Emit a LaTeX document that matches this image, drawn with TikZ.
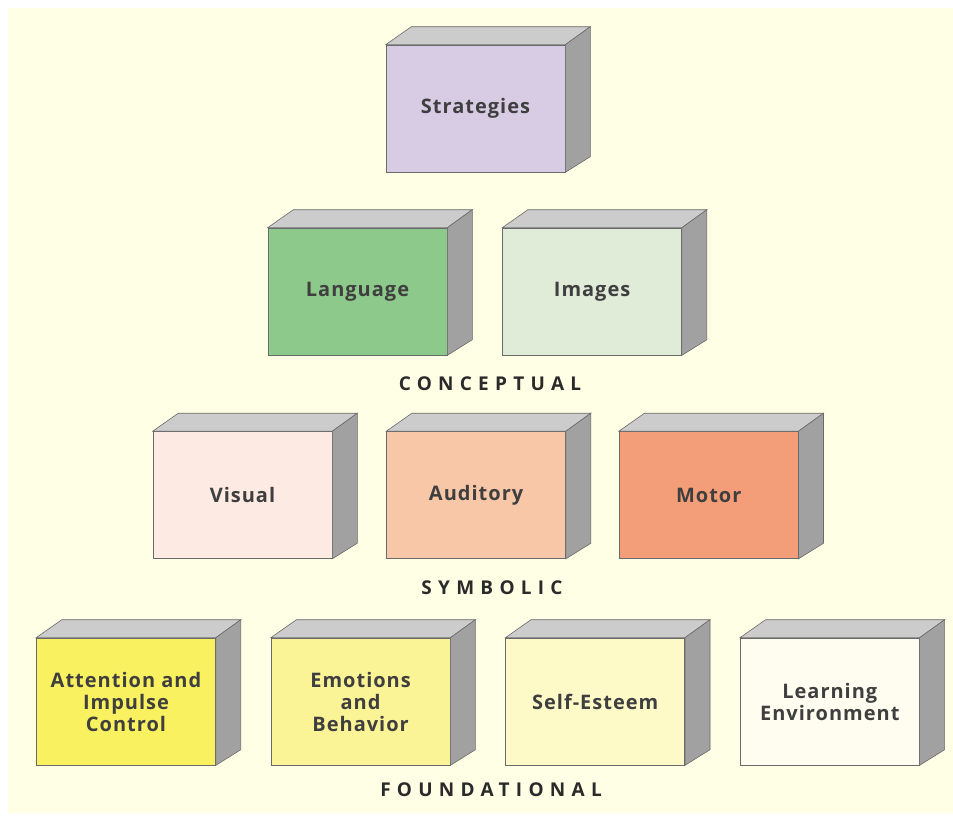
\documentclass[tikz,border=0pt]{standalone}
\usepackage{fontspec}
\setmainfont{Open Sans}
\usepackage{tikz}
\usetikzlibrary{positioning}
\definecolor{ink}     {HTML}{2A2A2A}
\definecolor{paper}   {HTML}{FFFFE6}
\definecolor{lilac}   {HTML}{D8CCE4}
\definecolor{leaf}    {HTML}{8DC98A}
\definecolor{sage}    {HTML}{E0EBD8}
\definecolor{blush}   {HTML}{FDEBE3}
\definecolor{peach}   {HTML}{F8C7A8}
\definecolor{salmon}  {HTML}{F39E78}
\definecolor{lemon}   {HTML}{FAF160}
\definecolor{butter}  {HTML}{FBF497}
\definecolor{cream}   {HTML}{FDFAC8}
\definecolor{ivory}   {HTML}{FEFDF0}
\tikzset{
  % --- blocks
  box/.style   = {draw=ink!70, line width=0.6pt, inner sep=0pt, align=center,
                  minimum width=179pt, minimum height=127pt, text=ink!90,
                  font=\fontsize{20}{22}\selectfont\bfseries\addfontfeatures{LetterSpace=5}},
  topface/.style  = {fill=black!20, draw=ink!70, line width=0.6pt},
  sideface/.style = {fill=black!37, draw=ink!70, line width=0.6pt},
  tier/.style  = {text=ink, font=\fontsize{19}{22}\selectfont\bfseries\addfontfeatures{LetterSpace=33}},
}
\begin{document}
\begin{tikzpicture}[x=1pt,y=-1pt]
  \useasboundingbox (0,0) rectangle (953,817);
  \fill[white] (0,0) rectangle (953,817);
  \fill[paper] (8,8) rectangle (953,813);

  % top
  \node[box, fill=lilac] (str) at (475.5,108.5) {Strategies};
  % conceptual
  \node[box, fill=leaf] (lang) at (357.5,291.5) {Language};
  \node[box, fill=sage, right=55pt of lang] (img) {Images};
  % symbolic
  \node[box, fill=blush] (vis) at (242.5,495) {Visual};
  \node[box, fill=peach, right=54pt of vis] (aud) {Auditory};
  \node[box, fill=salmon, right=53pt of aud] (mot) {Motor};
  % foundational
  \node[box, fill=lemon] (att) at (126,701.5) {Attention and\\Impulse\\Control};
  \node[box, fill=butter, right=55pt of att] (emo) {Emotions\\and\\Behavior};
  \node[box, fill=cream, right=55pt of emo] (self) {Self-Esteem};
  \node[box, fill=ivory, right=55pt of self] (env) {Learning\\Environment};

  % depth of each block
  \foreach \n in {str,lang,img,vis,aud,mot,att,emo,self,env}{
    \filldraw[topface] (\n.north west) -- (\n.north east) -- ++(25,-18) -- ++(-179,0) -- cycle;
    \filldraw[sideface] (\n.north east) -- ++(25,-18) -- ++(0,130) -- (\n.south east) -- cycle;
  }

  \node[tier] (concept) at (490,384) {CONCEPTUAL};
  \node[tier] (symb) at (492,588) {SYMBOLIC};
  \node[tier] (found) at (491,790) {FOUNDATIONAL};
\end{tikzpicture}
\end{document}
